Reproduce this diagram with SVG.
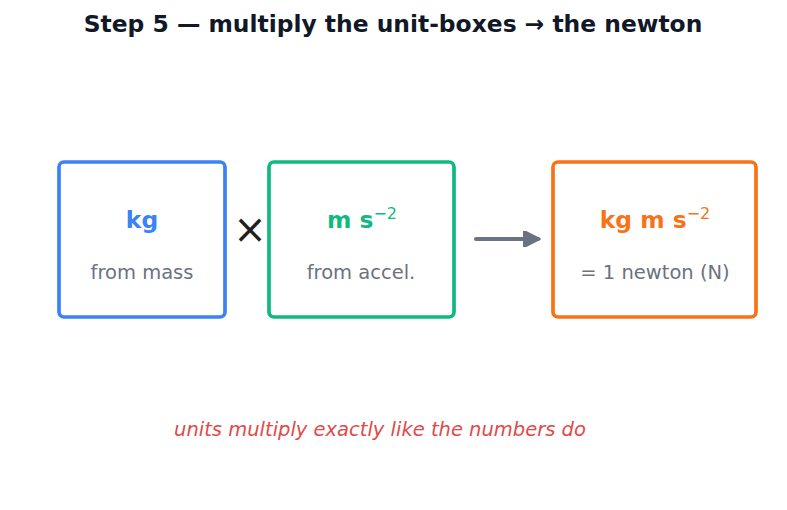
<svg xmlns="http://www.w3.org/2000/svg" width="787" height="510" viewBox="0 0 787 510">
<defs>
<style>
text{font-family:"DejaVu Sans","Liberation Sans",sans-serif;text-anchor:middle}
.title{font-size:23.4px;font-weight:bold;fill:#111827}
.box{fill:#fff;stroke-width:3.7}
.unit{font-size:23.4px;font-weight:bold}
.sup{font-size:16px;font-weight:normal}
.sub{font-size:19.5px;fill:#6b7280}
.note{font-size:19.5px;font-style:italic;fill:#e04a4a}
</style>
<marker id="ah" viewBox="0 0 10 10" refX="9" refY="5" markerWidth="4.5" markerHeight="4" orient="auto" markerUnits="strokeWidth">
<path d="M0,0 L10,5 L0,10 Z" fill="#6b7280" stroke="#6b7280" stroke-linejoin="round" stroke-width="1.5"/>
</marker>
</defs>
<rect width="787" height="510" fill="#fff"/>
<text class="title" x="393" y="32">Step 5 — multiply the unit-boxes → the newton</text>
<g id="mass">
<rect class="box" x="59" y="162" width="166" height="155" rx="5" stroke="#3b82f6"/>
<text class="unit" x="142" y="228" fill="#3b82f6">kg</text>
<text class="sub" x="142" y="279">from mass</text>
</g>
<g id="accel">
<rect class="box" x="269" y="162" width="185" height="155" rx="5" stroke="#10b981"/>
<text class="unit" x="362" y="228" fill="#10b981">m s<tspan class="sup" dy="-9">−2</tspan></text>
<text class="sub" x="361" y="279">from accel.</text>
</g>
<g id="newton">
<rect class="box" x="553" y="162" width="203" height="155" rx="5" stroke="#f97316"/>
<text class="unit" x="655" y="228" fill="#f97316">kg m s<tspan class="sup" dy="-9">−2</tspan></text>
<text class="sub" x="655" y="279">= 1 newton (N)</text>
</g>
<text x="250" y="243" font-size="40" fill="#1f1f1f">×</text>
<g id="connectors">
<line x1="476" y1="239" x2="538" y2="239" stroke="#6b7280" stroke-width="4" stroke-linecap="round" marker-end="url(#ah)"/>
</g>
<text class="note" x="380" y="436">units multiply exactly like the numbers do</text>
</svg>
